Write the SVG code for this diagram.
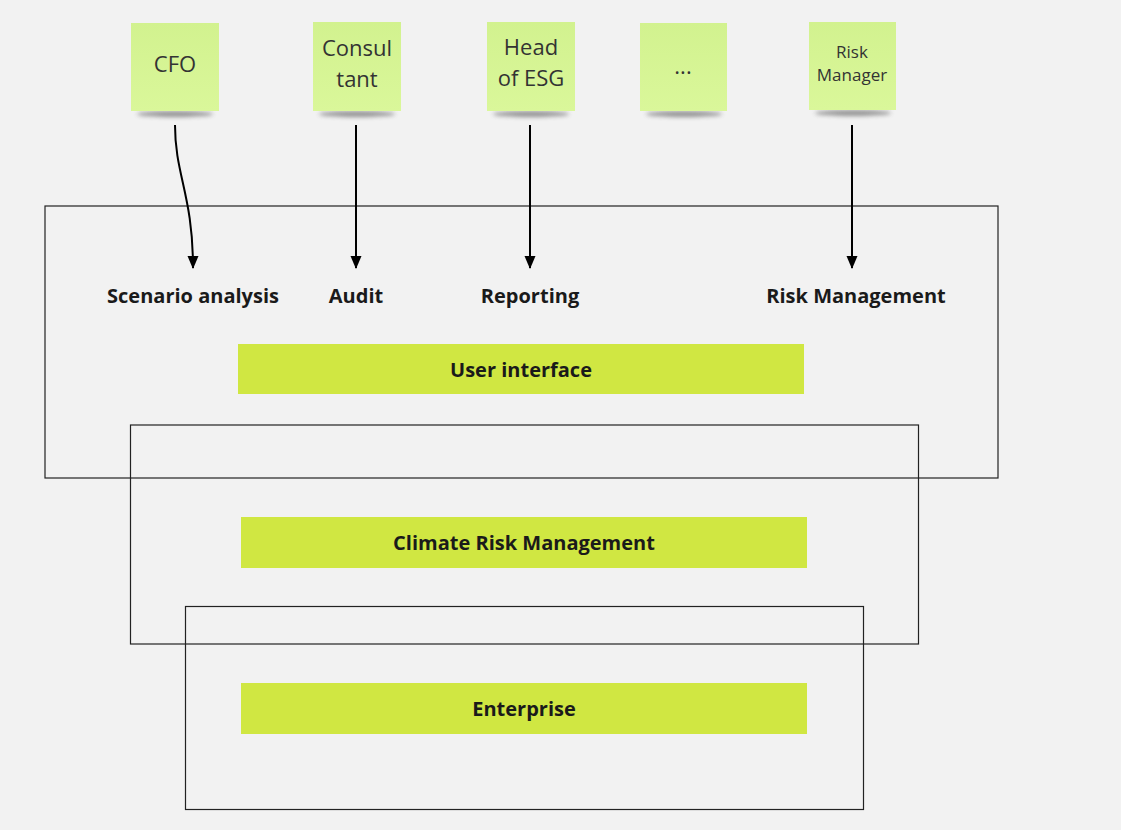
<svg xmlns="http://www.w3.org/2000/svg" width="1121" height="830" viewBox="0 0 1121 830">
<defs>
<style>
.frame{fill:none;stroke:#222;stroke-width:1.2}
.bar{fill:#d0e742}
.barText{font-family:"Open Sans",sans-serif;font-weight:700;font-size:20px;fill:#1a1a1a;text-anchor:middle}
.lbl{font-family:"Open Sans",sans-serif;font-weight:700;font-size:20px;fill:#1a1a1a;text-anchor:middle}
.note{fill:url(#noteGrad)}
.noteText{font-family:"Open Sans",sans-serif;font-size:22px;fill:#333;text-anchor:middle}
.noteSmall{font-family:"Open Sans",sans-serif;font-size:17px;fill:#333;text-anchor:middle}
.conn{fill:none;stroke:#000;stroke-width:2}
</style>
<linearGradient id="noteGrad" x1="0" y1="0" x2="0" y2="1">
<stop offset="0" stop-color="#d2f28f"/>
<stop offset="1" stop-color="#daf79a"/>
</linearGradient>
<filter id="blur" x="-20%" y="-100%" width="140%" height="300%"><feGaussianBlur stdDeviation="2"/></filter>
<marker id="arrow" markerWidth="14" markerHeight="14" refX="12" refY="7" orient="auto" markerUnits="userSpaceOnUse">
<path d="M0,1.5 L13,7 L0,12.5 Z" fill="#000"/>
</marker>
</defs>
<rect width="1121" height="830" fill="#f2f2f2"/>

<g id="frame-ui"><rect class="frame" x="45" y="206" width="953" height="272"/></g>
<g id="frame-crm"><rect class="frame" x="130.5" y="425" width="788" height="219"/></g>
<g id="frame-ent"><rect class="frame" x="185.5" y="606.5" width="678" height="203"/></g>

<g id="note-cfo">
<ellipse cx="175" cy="114" rx="38" ry="3" fill="#555" opacity="0.6" filter="url(#blur)"/>
<rect class="note" x="131" y="23" width="88" height="88"/>
<text class="noteText" x="175" y="72">CFO</text>
</g>
<g id="note-consultant">
<ellipse cx="357" cy="114" rx="38" ry="3" fill="#555" opacity="0.6" filter="url(#blur)"/>
<rect class="note" x="313" y="22" width="88" height="89"/>
<text class="noteText" x="357" y="56">Consul</text>
<text class="noteText" x="357" y="87">tant</text>
</g>
<g id="note-esg">
<ellipse cx="531" cy="114" rx="38" ry="3" fill="#555" opacity="0.6" filter="url(#blur)"/>
<rect class="note" x="487" y="22" width="88" height="89"/>
<text class="noteText" x="531" y="55">Head</text>
<text class="noteText" x="531" y="86">of ESG</text>
</g>
<g id="note-more">
<ellipse cx="684" cy="114" rx="38" ry="3" fill="#555" opacity="0.6" filter="url(#blur)"/>
<rect class="note" x="640" y="23" width="87" height="88"/>
<text class="noteText" x="683" y="74">...</text>
</g>
<g id="note-risk">
<ellipse cx="853" cy="113" rx="38" ry="3" fill="#555" opacity="0.6" filter="url(#blur)"/>
<rect class="note" x="809" y="22" width="87" height="88"/>
<text class="noteSmall" x="852" y="58">Risk</text>
<text class="noteSmall" x="852" y="81">Manager</text>
</g>

<g id="connectors">
<path class="conn" d="M175,125 C175,175 193,195 193,268" marker-end="url(#arrow)"/>
<path class="conn" d="M356,125 L356,268" marker-end="url(#arrow)"/>
<path class="conn" d="M530,125 L530,268" marker-end="url(#arrow)"/>
<path class="conn" d="M852,125 L852,268" marker-end="url(#arrow)"/>
</g>

<g id="label-scenario"><text class="lbl" x="193" y="303">Scenario analysis</text></g>
<g id="label-audit"><text class="lbl" x="356" y="303">Audit</text></g>
<g id="label-reporting"><text class="lbl" x="530" y="303">Reporting</text></g>
<g id="label-risk"><text class="lbl" x="856" y="303">Risk Management</text></g>

<g id="bar-ui">
<rect class="bar" x="238" y="344" width="566" height="50"/>
<text class="barText" x="521" y="377">User interface</text>
</g>
<g id="bar-crm">
<rect class="bar" x="241" y="517" width="566" height="51"/>
<text class="barText" x="524" y="550">Climate Risk Management</text>
</g>
<g id="bar-ent">
<rect class="bar" x="241" y="683" width="566" height="51"/>
<text class="barText" x="524" y="716">Enterprise</text>
</g>
</svg>
